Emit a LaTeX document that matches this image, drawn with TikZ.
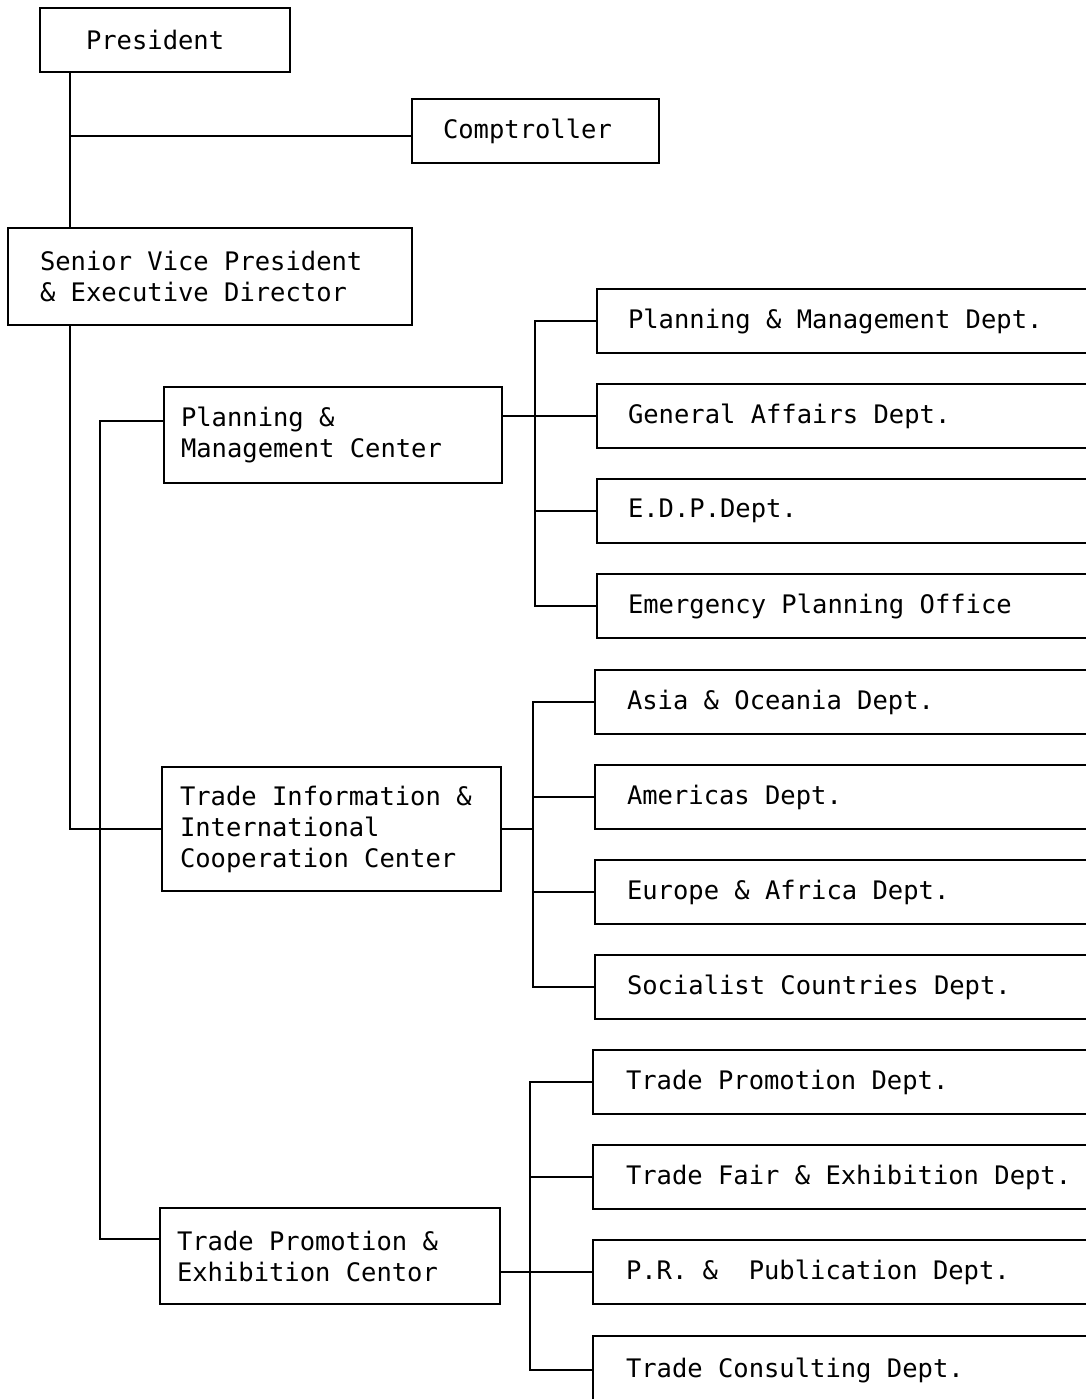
\documentclass[tikz,border=0pt]{standalone}
\usepackage{fontspec}
\setmonofont{DejaVu Sans Mono}
\DeclareRobustCommand\orgchartfont{\fontsize{25.5}{31}\selectfont\ttfamily}
\DeclareRobustCommand\orgchartspace{\spaceskip=15.35pt\relax\xspaceskip=15.35pt\relax}
\begin{document}
\begin{tikzpicture}[x=1pt,y=-1pt,
  box/.style={draw, line width=2pt, anchor=north west, outer sep=0pt, align=left,
    inner ysep=0pt, font=\orgchartfont, execute at begin node=\orgchartspace},
  dept/.style={box, minimum height=64pt, text width=498pt},
  link/.style={line width=2pt}]
\useasboundingbox (0,0) rectangle (1086,1399);
\clip (0,0) rectangle (1086,1399);
\fill[white] (0,0) rectangle (1086,1399);

% top level
\node[box, inner xsep=46pt, text width=158pt, minimum height=64pt] (pres) at (40,8) {President};
\node[box, inner xsep=31pt, text width=185pt, minimum height=64pt] (comp) at (412,99) {Comptroller};
\node[box, inner xsep=32pt, text width=340pt, minimum height=97pt] (svp) at (8,228) {Senior Vice President\\\& Executive Director};

% centers
\node[box, inner xsep=17pt, text width=304pt, minimum height=96pt] (pmc) at (164,387) {Planning \&\\Management Center};
\node[box, inner xsep=18pt, text width=303pt, minimum height=124pt] (tic) at (162,767) {Trade Information \&\\International\\Cooperation Center};
\node[box, inner xsep=17pt, text width=306pt, minimum height=96pt] (tpc) at (160,1208) {Trade Promotion \&\\Exhibition Centor};

% departments, group 1
\node[dept, inner xsep=31pt] (d1) at (597,289) {Planning \& Management Dept.};
\node[dept, inner xsep=31pt] (d2) at (597,384) {General Affairs Dept.};
\node[dept, inner xsep=31pt] (d3) at (597,479) {E.D.P.Dept.};
\node[dept, inner xsep=31pt] (d4) at (597,574) {Emergency Planning Office};

% group 2
\node[dept, inner xsep=32pt] (e1) at (595,670) {Asia \& Oceania Dept.};
\node[dept, inner xsep=32pt] (e2) at (595,765) {Americas Dept.};
\node[dept, inner xsep=32pt] (e3) at (595,860) {Europe \& Africa Dept.};
\node[dept, inner xsep=32pt] (e4) at (595,955) {Socialist Countries Dept.};

% group 3
\node[dept, inner xsep=33pt] (f1) at (593,1050) {Trade Promotion Dept.};
\node[dept, inner xsep=33pt] (f2) at (593,1145) {Trade Fair \& Exhibition Dept.};
\node[dept, inner xsep=33pt] (f3) at (593,1240) {P.R. \& \ Publication Dept.};
\node[dept, inner xsep=33pt, minimum height=68pt] (f4) at (593,1336) {Trade Consulting Dept.};

% trunk connectors
\coordinate (t1) at (70,0);
\coordinate (cj) at (70,136);
\draw[link] (pres.south -| t1) -- (svp.north -| t1);
\draw[link] (cj) -- (cj -| comp.west);
\draw[link] (svp.south -| t1) |- (tic.west);

\coordinate (t2a) at (100,421);
\coordinate (t2b) at (100,1239);
\draw[link] (t2a -| pmc.west) -- (t2a) -- (t2b) -- (t2b -| tpc.west);

% group 1 bus
\coordinate (b1) at (535,0);
\draw[link] (pmc.east |- d2.west) -- (d2.west);
\draw[link] (d1.west) -- (d1.west -| b1) -- (d4.west -| b1) -- (d4.west);
\draw[link] (d3.west -| b1) -- (d3.west);

% group 2 bus
\coordinate (b2) at (533,0);
\draw[link] (tic.east) -- (tic.east -| b2);
\draw[link] (e1.west) -- (e1.west -| b2) -- (e4.west -| b2) -- (e4.west);
\draw[link] (e2.west -| b2) -- (e2.west);
\draw[link] (e3.west -| b2) -- (e3.west);

% group 3 bus
\coordinate (b3) at (530,0);
\draw[link] (tpc.east |- f3.west) -- (f3.west);
\draw[link] (f1.west) -- (f1.west -| b3) -- (f4.west -| b3) -- (f4.west);
\draw[link] (f2.west -| b3) -- (f2.west);
\end{tikzpicture}
\end{document}
